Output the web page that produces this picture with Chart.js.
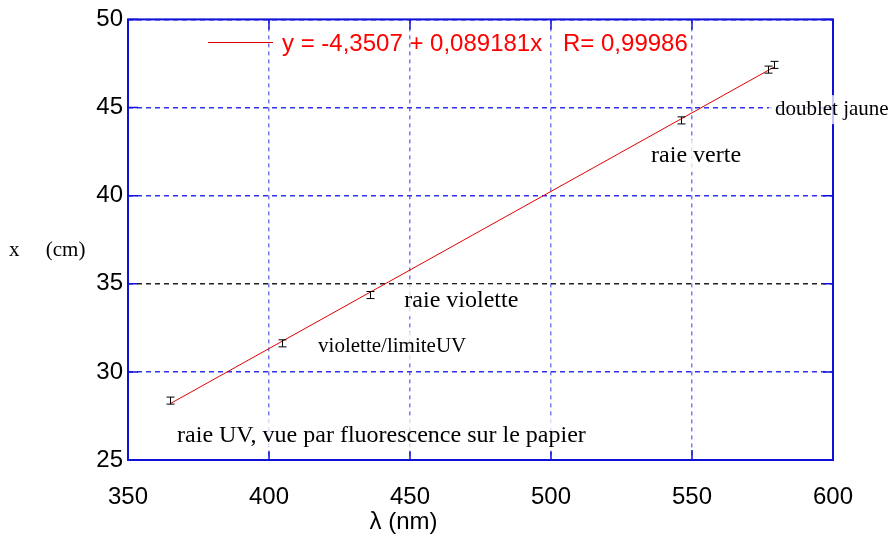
<!DOCTYPE html>
<html>
<head>
<meta charset="utf-8">
<script src="https://cdn.jsdelivr.net/npm/chart.js@4.4.1/dist/chart.umd.min.js"></script>
<style>
  html, body { margin: 0; padding: 0; background: #fff; }
  #wrap { width: 893px; height: 538px; }
</style>
</head>
<body>
<div id="wrap"><canvas id="lambdaChart" width="893" height="538"></canvas></div>
<script>
// raies du mercure : longueur d'onde (nm) et position mesurée x (cm)
const lambdas = [365.0, 404.7, 435.8, 546.1, 577.0, 579.1];
const positions = [28.37, 31.62, 34.36, 44.27, 47.15, 47.42];
const errors = [0.2, 0.2, 0.2, 0.2, 0.2, 0.2];

// régression linéaire x = a + b * lambda
const fitA = -4.3507;
const fitB = 0.089181;
const fitR = 0.99986;
const fitRange = [365.0, 579.1];

const xTicks = [350, 400, 450, 500, 550, 600];
const yTicks = [25, 30, 35, 40, 45, 50];

// étiquettes des raies : texte, lambda, x, taille
const lineNames = ["raie UV, vue par fluorescence sur le papier", "violette/limiteUV", "raie violette", "raie verte", "doublet jaune"];
const nameLambda = [367.4, 417.4, 448.0, 535.5, 579.4];
const nameX = [26.4, 31.45, 34.05, 42.25, 44.88];
const nameSize = [24, 21, 24, 24, 21];

const points = lambdas.map((l, i) => ({ x: l, y: positions[i] }));
const fitPoints = fitRange.map(l => ({ x: l, y: fitA + fitB * l }));

const fmt = v => v.toString().replace(".", ",");

Chart.defaults.font.family = "'Liberation Sans', Arial, sans-serif";
Chart.defaults.color = "#000";

const decorations = {
  id: "decorations",
  afterDraw(chart) {
    const { ctx, chartArea: a, scales: { x, y } } = chart;
    ctx.save();

    // barres d'erreur
    ctx.strokeStyle = "#000";
    ctx.lineWidth = 1;
    lambdas.forEach((l, i) => {
      const px = Math.round(x.getPixelForValue(l)) + 0.5;
      const top = y.getPixelForValue(positions[i] + errors[i]);
      const bot = y.getPixelForValue(positions[i] - errors[i]);
      ctx.beginPath();
      ctx.moveTo(px, top); ctx.lineTo(px, bot);
      ctx.moveTo(px - 4, top); ctx.lineTo(px + 4, top);
      ctx.moveTo(px - 4, bot); ctx.lineTo(px + 4, bot);
      ctx.stroke();
    });

    // cadre et graduations intérieures
    ctx.strokeStyle = "#1010d8";
    ctx.lineWidth = 2;
    ctx.strokeRect(a.left, a.top, a.right - a.left, a.bottom - a.top);
    ctx.lineWidth = 1.5;
    ctx.beginPath();
    yTicks.forEach(v => {
      const py = y.getPixelForValue(v);
      ctx.moveTo(a.left, py); ctx.lineTo(a.left + 10, py);
      ctx.moveTo(a.right, py); ctx.lineTo(a.right - 10, py);
    });
    xTicks.forEach(v => {
      const px = x.getPixelForValue(v);
      ctx.moveTo(px, a.bottom); ctx.lineTo(px, a.bottom - 10);
      ctx.moveTo(px, a.top); ctx.lineTo(px, a.top + 10);
    });
    ctx.stroke();

    // légende de l'ajustement
    ctx.strokeStyle = "#e00000";
    ctx.lineWidth = 1;
    ctx.beginPath();
    ctx.moveTo(208, 42.5); ctx.lineTo(273, 42.5);
    ctx.stroke();
    ctx.fillStyle = "#ff0000";
    ctx.font = "24px 'Liberation Sans', Arial, sans-serif";
    ctx.textBaseline = "middle";
    ctx.textAlign = "left";
    ctx.fillText("y = " + fmt(fitA) + " + " + fmt(fitB) + "x", 282, 44);
    ctx.fillText("R= " + fmt(fitR), 563, 44);

    // noms des raies, sur fond blanc translucide
    lineNames.forEach((t, i) => {
      ctx.font = nameSize[i] + "px 'Liberation Serif', 'Times New Roman', serif";
      const tx = x.getPixelForValue(nameLambda[i]);
      const ty = y.getPixelForValue(nameX[i]);
      const w = ctx.measureText(t).width;
      const h = nameSize[i];
      ctx.fillStyle = "rgba(255,255,255,0.75)";
      ctx.fillRect(tx - 6, ty - h / 2 - 4, w + 10, h + 8);
      ctx.fillStyle = "#000";
      ctx.fillText(t, tx, ty);
    });

    // titres des axes
    ctx.fillStyle = "#000";
    ctx.font = "21px 'Liberation Serif', 'Times New Roman', serif";
    ctx.fillText("x     (cm)", 9, 250);
    ctx.font = "24px 'Liberation Sans', Arial, sans-serif";
    ctx.textAlign = "center";
    ctx.fillText("\u03bb (nm)", (a.left + a.right) / 2 - 77, 522);
    ctx.restore();
  }
};

// grille pointillée bleue, ligne x = 35 en noir
const yGridColor = (c) => (c.tick && c.tick.value === 35) ? "#222222" : "#3030f0";
const xGridColor = "#7a7af5";

new Chart(document.getElementById("lambdaChart"), {
  type: "scatter",
  data: {
    datasets: [
      {
        label: "mesures",
        data: points,
        pointRadius: 0,
        showLine: false
      },
      {
        type: "line",
        label: "ajustement",
        data: fitPoints,
        borderColor: "#e00000",
        borderWidth: 1,
        pointRadius: 0,
        fill: false
      }
    ]
  },
  options: {
    responsive: false,
    animation: false,
    layout: { padding: { left: 0, top: 18, right: 60, bottom: 0 } },
    plugins: {
      legend: { display: false },
      tooltip: { enabled: false }
    },
    scales: {
      x: {
        type: "linear",
        min: 350,
        max: 600,
        afterFit(scale) { scale.height = 78; },
        afterBuildTicks(scale) { scale.ticks = xTicks.map(v => ({ value: v })); },
        ticks: { font: { size: 24 }, padding: 23, maxRotation: 0 },
        grid: { color: xGridColor, lineWidth: 1.5, drawTicks: false },
        border: { display: false, dash: [4, 4] }
      },
      y: {
        type: "linear",
        min: 25,
        max: 50,
        afterFit(scale) { scale.width = 128; },
        afterBuildTicks(scale) { scale.ticks = yTicks.map(v => ({ value: v })); },
        ticks: { font: { size: 24 }, padding: 5 },
        grid: { color: yGridColor, lineWidth: 1.5, drawTicks: false },
        border: { display: false, dash: [5, 4] }
      }
    }
  },
  plugins: [decorations]
});
</script>
</body>
</html>
